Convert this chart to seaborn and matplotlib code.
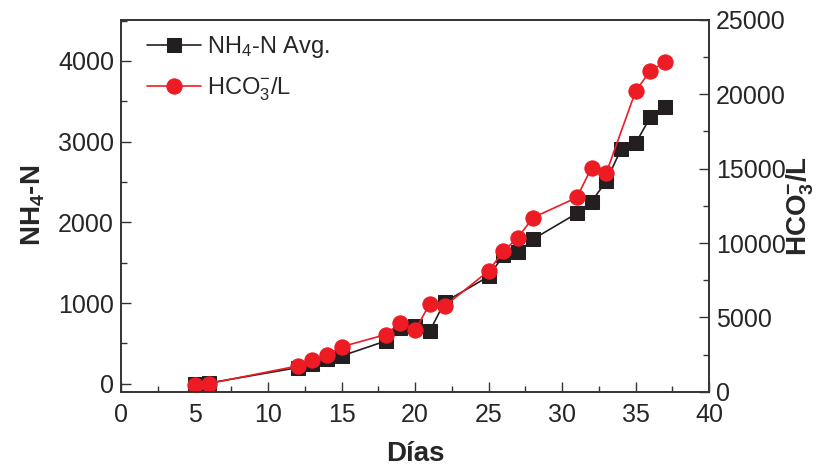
import numpy as np
import pandas as pd
import matplotlib
matplotlib.use('Agg')
import matplotlib.pyplot as plt
import seaborn as sns
from matplotlib.ticker import MultipleLocator

# values
dias = [5, 6, 12, 13, 14, 15, 18, 19, 20, 21, 22, 25, 26, 27, 28, 31, 32, 33, 34, 35, 36, 37]
nh4_avg = [0, 10, 200, 240, 305, 345, 530, 695, 715, 655, 1012, 1330, 1590, 1628, 1790,
           2112, 2258, 2512, 2905, 2982, 3304, 3432]
dias_hco3 = [5, 6, 12, 13, 14, 15, 18, 19, 20, 21, 22, 25, 26, 27, 28, 31, 32, 33, 35, 36, 37]
hco3 = [490, 560, 1740, 2170, 2500, 3030, 3850, 4660, 4140, 5930, 5750, 8130, 9450, 10370,
        11700, 13060, 15070, 14710, 20220, 21570, 22170]

df_nh4 = pd.DataFrame({'Dias': dias, 'NH4': nh4_avg})
df_hco3 = pd.DataFrame({'Dias': dias_hco3, 'HCO3': hco3})

sns.set_style('ticks')
plt.rcParams['font.family'] = ['Liberation Sans', 'DejaVu Sans']
plt.rcParams['mathtext.default'] = 'regular'

black = '#231F20'
red = '#ED1C24'

fig = plt.figure(figsize=(8.18, 4.71), dpi=100)
ax = fig.add_axes([0.148, 0.168, 0.719, 0.790])
ax2 = ax.twinx()

sns.lineplot(data=df_nh4, x='Dias', y='NH4', ax=ax, color=black, marker='s',
             markersize=10, markeredgecolor=black, linewidth=1.2, label='NH$_4$-N Avg.',
             legend=False)
sns.lineplot(data=df_hco3, x='Dias', y='HCO3', ax=ax2, color=red, marker='o',
             markersize=11, markeredgecolor=red, linewidth=1.2, label='HCO$_3^{-}$/L',
             legend=False)

ax.set_xlim(0, 40)
ax.set_ylim(-100, 4510)
ax2.set_ylim(0, 25000)

ax.xaxis.set_major_locator(MultipleLocator(5))
ax.xaxis.set_minor_locator(MultipleLocator(2.5))
ax.yaxis.set_major_locator(MultipleLocator(1000))
ax.yaxis.set_minor_locator(MultipleLocator(500))
ax2.yaxis.set_major_locator(MultipleLocator(5000))
ax2.yaxis.set_minor_locator(MultipleLocator(2500))

for a in (ax, ax2):
    a.tick_params(which='both', direction='in', labelsize=18, color='#333333', width=1)
    a.tick_params(which='major', length=7)
    a.tick_params(which='minor', length=4)
    for s in a.spines.values():
        s.set_visible(True)
        s.set_color('#333333')
        s.set_linewidth(1.2)
ax.tick_params(axis='x', pad=8)
ax2.tick_params(axis='y', pad=5)
ax.tick_params(axis='y', pad=5)

ax.set_xlabel('Días', fontsize=20, fontweight='bold', labelpad=10)
ax.set_ylabel('NH$_4$-N', fontsize=20, fontweight='bold', labelpad=8)
ax2.set_ylabel('HCO$_3^{-}$/L', fontsize=20, fontweight='bold', labelpad=-1)

h1, l1 = ax.get_legend_handles_labels()
h2, l2 = ax2.get_legend_handles_labels()
ax.legend(h1 + h2, l1 + l2, loc='upper left', bbox_to_anchor=(0.02, 1.0),
          frameon=False, fontsize=17, handlelength=2.3, borderaxespad=0.2,
          labelspacing=0.65, handletextpad=0.25)

fig.savefig('out.png', dpi=100)
